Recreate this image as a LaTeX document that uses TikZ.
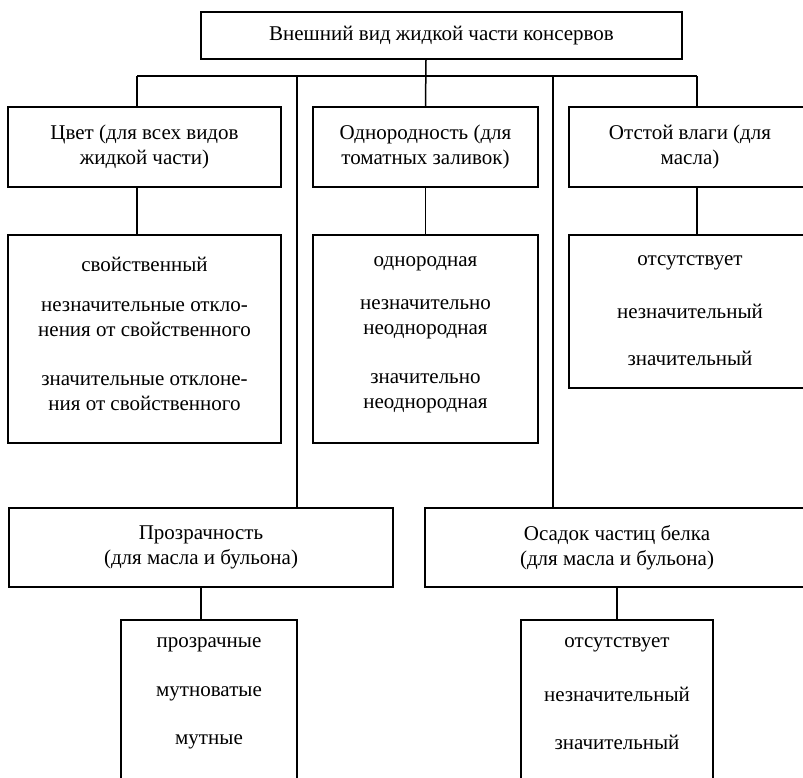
\documentclass[tikz,border=0pt]{standalone}
\usepackage{fontspec}
\setmainfont{Liberation Serif}
\begin{document}
\begin{tikzpicture}[x=1pt,y=-1pt,
  box/.style={draw=black, line width=1.5pt, rectangle, inner sep=0pt, align=center,
              font=\fontsize{21}{25}\selectfont},
  lbl/.style={inner sep=0pt, align=center, font=\fontsize{21}{25}\selectfont},
  link/.style={draw=black, line width=1.5pt}]
\useasboundingbox (0,0) rectangle (803,777);
\clip (0,0) rectangle (803,777);

% root
\node[box, minimum width=481pt, minimum height=47pt] (root) at (441.5,35.5)
  {Внешний вид жидкой части консервов};

% junction points on the distribution bus
\coordinate (jc) at (137,76);
\coordinate (jp) at (297,76);
\coordinate (jt) at (426,76);
\coordinate (js) at (553,76);
\coordinate (jo) at (697,76);

% first row of indicators
\node[box, minimum width=273pt, minimum height=80pt] (cvet) at (144.5,147)
  {Цвет (для всех видов\\жидкой части)};
\node[box, minimum width=225pt, minimum height=80pt] (odn) at (425.5,147)
  {Однородность (для\\томатных заливок)};
\node[box, minimum width=242pt, minimum height=80pt] (otst) at (690,147)
  {Отстой влаги (для\\масла)};

% gradations of the first row
\node[box, minimum width=273pt, minimum height=208pt] (cvetL) at (144.5,339) {};
\node[lbl] (c1) at (144.5,264) {свойственный};
\node[lbl] (c2) at (144.5,319) {незначительные откло-\\нения от свойственного};
\node[lbl] (c3) at (144.5,393) {значительные отклоне-\\ния от свойственного};

\node[box, minimum width=225pt, minimum height=208pt] (odnL) at (425.5,339) {};
\node[lbl] (o1) at (425.5,264) {однородная};
\node[lbl] (o2) at (425.5,319) {незначительно\\неоднородная};
\node[lbl] (o3) at (425.5,393) {значительно\\неоднородная};

\node[box, minimum width=242pt, minimum height=153pt] (otstL) at (690,311.5) {};
\node[lbl] (t1) at (690,263) {отсутствует};
\node[lbl] (t2) at (690,311) {незначительный};
\node[lbl] (t3) at (690,358) {значительный};

% second row of indicators
\node[box, minimum width=384pt, minimum height=79pt] (proz) at (201,547.5)
  {Прозрачность\\(для масла и бульона)};
\node[box, minimum width=384pt, minimum height=79pt] (osad) at (617,547.5)
  {Осадок частиц белка\\(для масла и бульона)};

% gradations of the second row
\node[box, minimum width=176pt, minimum height=200pt] (prozL) at (209,720) {};
\node[lbl] (p1) at (209,645) {прозрачные};
\node[lbl] (p2) at (209,694) {мутноватые};
\node[lbl] (p3) at (209,742) {мутные};

\node[box, minimum width=192pt, minimum height=200pt] (osadL) at (617,720) {};
\node[lbl] (s1) at (617,645) {отсутствует};
\node[lbl] (s2) at (617,694) {незначительный};
\node[lbl] (s3) at (617,742) {значительный};

% connectors
\path[link] (jt |- root.south) -- (odn.north);
\path[link] (jc) -- (jo);
\path[link] (jc) -- (jc |- cvet.north);
\path[link] (jo) -- (jo |- otst.north);
\path[link] (jp) -- (jp |- proz.north);
\path[link] (js) -- (js |- osad.north);
\path[link] (jc |- cvet.south) -- (jc |- cvetL.north);
\path[link] (odn.south) -- (odnL.north);
\path[link] (jo |- otst.south) -- (jo |- otstL.north);
\path[link] (proz.south) -- (proz.south |- prozL.north);
\path[link] (osad.south) -- (osadL.north);
\end{tikzpicture}
\end{document}
